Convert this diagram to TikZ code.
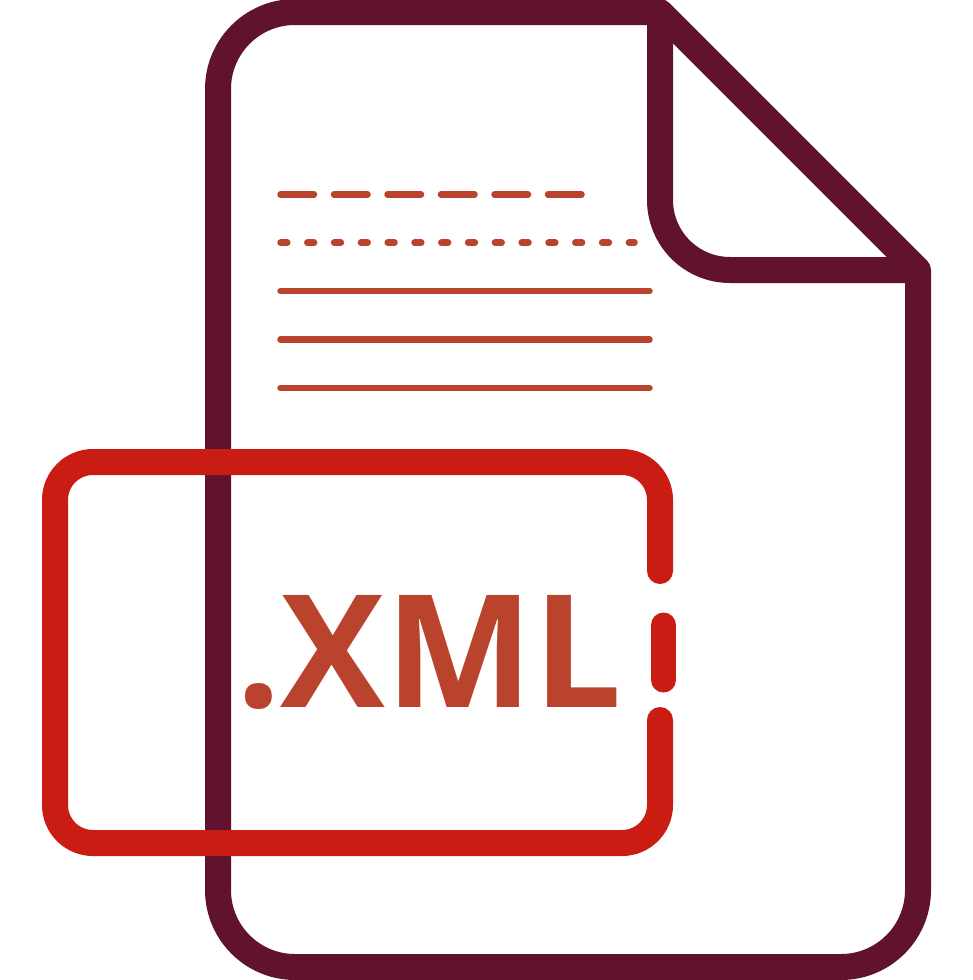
\documentclass[tikz,border=0pt]{standalone}
\usepackage{fontspec}
\setmainfont{Open Sans}
\definecolor{docwine}{HTML}{60122F}
\definecolor{tagred}{HTML}{C91C13}
\definecolor{inkrust}{HTML}{B9432D}
\def\dwine{\draw[docwine,line width=26pt,line join=round]}
\def\dtag{\draw[tagred,line width=26pt,line cap=round]}
\def\dink{\draw[inkrust,line width=6.5pt,line cap=round]}
\begin{document}
\begin{tikzpicture}[x=1pt,y=-1pt]
                \useasboundingbox (0,0) rectangle (973,980);
                % page and fold
                \dwine (660,12) -- (295,12) arc (270:180:77) -- (218,890) arc (180:90:77) -- (841,967) arc (90:0:77) -- (918,270) -- cycle;
                \dwine (660,12) -- (660,200) arc (180:90:70) -- (918,270);
                % text lines
                \dink[dash pattern=on 33.5pt off 20pt] (280.5,194.5) -- (584,194.5);
                \dink[dash pattern=on 6.8pt off 20pt] (280.5,242.7) -- (634.5,242.7);
                \dink (280.5,291) -- (649.5,291);
                \dink (280.5,339.5) -- (649.5,339.5);
                \dink (280.5,388) -- (649.5,388);
                % file type tag
                \dtag (660,571) -- (660,500) arc (0:-90:38) -- (93,462) arc (270:180:38) -- (55,805) arc (180:90:38) -- (622,843) arc (90:0:38) -- (660,720);
                \dtag[line width=25pt] (663.5,625) -- (663.5,680);
                \node[inner sep=0pt,anchor=base west,text=inkrust,font=\fontsize{157}{157}\selectfont\bfseries] (extlabel) at (236,707) {.XML};
            \end{tikzpicture}
\end{document}
